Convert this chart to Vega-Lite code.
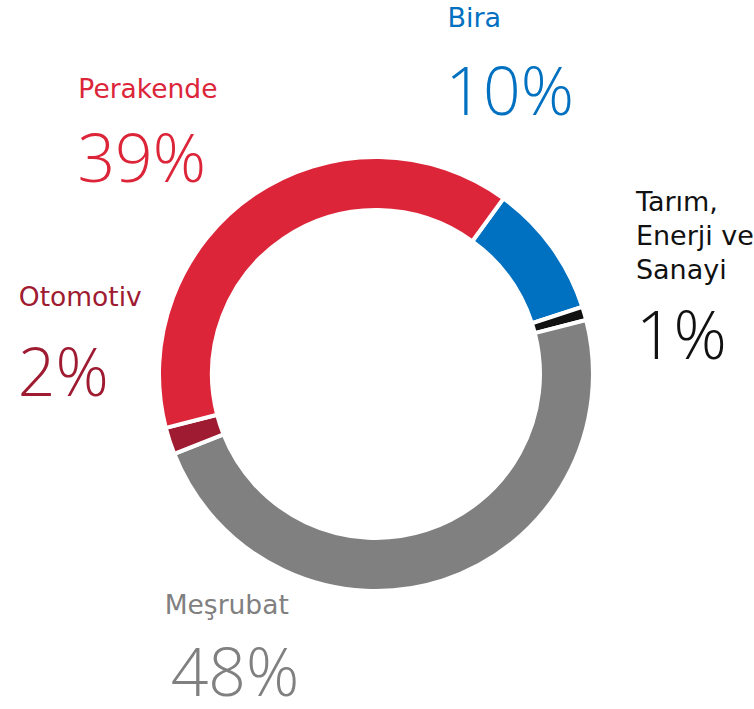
{
  "$schema": "https://vega.github.io/schema/vega-lite/v6.json",
  "width": 754,
  "height": 709,
  "autosize": {"type": "fit", "contains": "padding"},
  "padding": 0,
  "background": "white",
  "config": {"view": {"stroke": null}},
  "datasets": {
    "slices": [
      {"cat": "Bira", "value": 10, "o": 1},
      {"cat": "Tarım", "value": 1, "o": 2},
      {"cat": "Meşrubat", "value": 48, "o": 3},
      {"cat": "Otomotiv", "value": 2, "o": 4},
      {"cat": "Perakende", "value": 39, "o": 5}
    ],
    "labels": [
      {"cat": "Bira", "name": "Bira", "pct": "10%", "nx": 72, "ny": -348, "px": 70, "py": -260, "big": 1},
      {"cat": "Tarım", "name": "Tarım,\nEnerji ve\nSanayi", "pct": "1%", "nx": 262, "ny": -163, "px": 262, "py": -15, "big": 1},
      {"cat": "Meşrubat", "name": "Meşrubat", "pct": "48%", "nx": -213, "ny": 241, "px": -207, "py": 323, "big": 0},
      {"cat": "Otomotiv", "name": "Otomotiv", "pct": "2%", "nx": -360, "ny": -68, "px": -361, "py": 22, "big": 0},
      {"cat": "Perakende", "name": "Perakende", "pct": "39%", "nx": -300, "ny": -277, "px": -301, "py": -192, "big": 0}
    ]
  },
  "resolve": {"scale": {"color": "shared"}},
  "layer": [
    {
      "data": {"name": "slices"},
      "mark": {"type": "arc", "outerRadius": 217, "innerRadius": 164, "stroke": "white", "strokeWidth": 4},
      "encoding": {
        "x": {"datum": 0, "type": "quantitative", "scale": {"domain": [-379, 375], "nice": false, "zero": false}, "axis": null},
        "y": {"datum": 0, "type": "quantitative", "scale": {"domain": [-375, 334], "reverse": true, "nice": false, "zero": false}, "axis": null},
        "theta": {"field": "value", "type": "quantitative", "stack": true, "scale": {"range": [0.6283, 6.9115]}},
        "order": {"field": "o", "type": "quantitative"},
        "color": {
          "field": "cat", "type": "nominal", "legend": null,
          "scale": {"domain": ["Bira", "Tarım", "Meşrubat", "Otomotiv", "Perakende"],
                    "range": ["#0070C0", "#111111", "#7F807F", "#9E1B32", "#DC2539"]}
        }
      }
    },
    {
      "data": {"name": "labels"},
      "transform": [{"filter": "datum.big == 0"}],
      "mark": {"type": "text", "align": "left", "baseline": "alphabetic", "font": "DejaVu Sans", "fontSize": 26.5, "lineBreak": "\n"},
      "encoding": {
        "x": {"field": "nx", "type": "quantitative"},
        "y": {"field": "ny", "type": "quantitative"},
        "text": {"field": "name"},
        "color": {"field": "cat", "type": "nominal", "legend": null}
      }
    },
    {
      "data": {"name": "labels"},
      "transform": [{"filter": "datum.big == 1"}],
      "mark": {"type": "text", "align": "left", "baseline": "alphabetic", "font": "DejaVu Sans", "fontSize": 27, "lineBreak": "\n", "lineHeight": 34},
      "encoding": {
        "x": {"field": "nx", "type": "quantitative"},
        "y": {"field": "ny", "type": "quantitative"},
        "text": {"field": "name"},
        "color": {"field": "cat", "type": "nominal", "legend": null}
      }
    },
    {
      "data": {"name": "labels"},
      "mark": {"type": "text", "align": "left", "baseline": "alphabetic", "font": "Open Sans", "fontWeight": 300, "fontSize": 66},
      "encoding": {
        "x": {"field": "px", "type": "quantitative"},
        "y": {"field": "py", "type": "quantitative"},
        "text": {"field": "pct"},
        "color": {"field": "cat", "type": "nominal", "legend": null}
      }
    }
  ]
}
